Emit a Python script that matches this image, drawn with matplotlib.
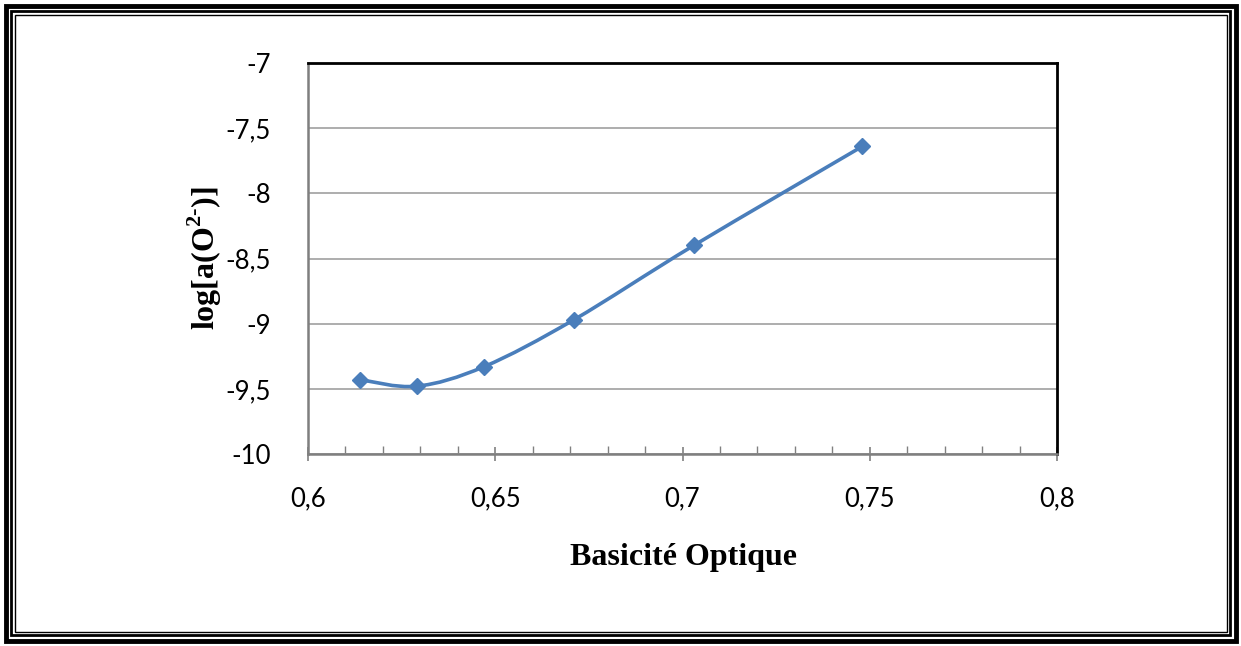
import matplotlib.pyplot as plt
from matplotlib.path import Path
from matplotlib.patches import PathPatch, Rectangle
from matplotlib.ticker import MultipleLocator, FuncFormatter

basicite = [0.614, 0.629, 0.647, 0.671, 0.703, 0.748]
log_a_o2 = [-9.43, -9.48, -9.33, -8.97, -8.40, -7.64]

x_ticks = [0.6, 0.65, 0.7, 0.75, 0.8]
y_ticks = [-10, -9.5, -9, -8.5, -8, -7.5, -7]

plt.rcParams['mathtext.fontset'] = 'custom'
plt.rcParams['mathtext.rm'] = 'Liberation Serif:bold'
plt.rcParams['mathtext.bf'] = 'Liberation Serif:bold'

line_color = '#4a7ebb'


def smooth_path(xs, ys, tension=0.5):
    # Excel-like smoothed line: cardinal spline as cubic bezier segments
    pts = list(zip(xs, ys))
    verts = [pts[0]]
    codes = [Path.MOVETO]
    n = len(pts)
    for i in range(n - 1):
        p0 = pts[i - 1] if i > 0 else pts[i]
        p1 = pts[i]
        p2 = pts[i + 1]
        p3 = pts[i + 2] if i + 2 < n else pts[i + 1]
        c1 = (p1[0] + (p2[0] - p0[0]) * tension / 3, p1[1] + (p2[1] - p0[1]) * tension / 3)
        c2 = (p2[0] - (p3[0] - p1[0]) * tension / 3, p2[1] - (p3[1] - p1[1]) * tension / 3)
        verts += [c1, c2, p2]
        codes += [Path.CURVE4] * 3
    return Path(verts, codes)


fig = plt.figure(figsize=(12.41, 6.46), dpi=100)
ax = fig.add_axes([308 / 1241, 1 - 454 / 646, 749 / 1241, 391 / 646])

ax.add_patch(PathPatch(smooth_path(basicite, log_a_o2), facecolor='none',
                       edgecolor=line_color, lw=2.6, zorder=3))
ax.plot(basicite, log_a_o2, linestyle='none', marker='D', markersize=8.5,
        color=line_color, zorder=4)

ax.set_xlim(0.6, 0.8)
ax.set_ylim(-10, -7)
ax.set_xticks(x_ticks)
ax.set_yticks(y_ticks)
ax.xaxis.set_minor_locator(MultipleLocator(0.01))

fmt = FuncFormatter(lambda v, p: ('%g' % v).replace('.', ','))
ax.xaxis.set_major_formatter(fmt)
ax.yaxis.set_major_formatter(fmt)

for lbl in ax.get_xticklabels() + ax.get_yticklabels():
    lbl.set_fontfamily('Lato')
    lbl.set_fontsize(18.5)

ax.tick_params(axis='x', which='major', direction='inout', length=10, width=1.2,
               color='#808080', pad=18)
ax.tick_params(axis='x', which='minor', direction='in', length=6, width=1,
               color='#808080')
ax.tick_params(axis='y', which='major', length=0, pad=27)

ax.grid(axis='y', color='#a0a0a0', lw=1.2)
ax.set_axisbelow(True)

ax.spines['left'].set_color('#7f7f7f')
ax.spines['left'].set_linewidth(1.8)
ax.spines['bottom'].set_color('#7f7f7f')
ax.spines['bottom'].set_linewidth(1.8)
ax.spines['top'].set_color('black')
ax.spines['top'].set_linewidth(2)
ax.spines['right'].set_color('black')
ax.spines['right'].set_linewidth(2)

fig.text(683 / 1241, 1 - 558 / 646, 'Basicité Optique', ha='center', va='center',
         family='Liberation Serif', fontweight='bold', fontsize=23)
fig.text(205 / 1241, 1 - 258 / 646, r'log[a(O$^{2\text{-}}$)]', ha='center', va='center',
         rotation=90, family='Liberation Serif', fontweight='bold', fontsize=23)

# page border (thick outer, thinner inner lines)
W, H = 1241, 646
for off, lw in [(5.5, 3.5), (11, 2), (14.5, 1)]:
    fig.patches.append(Rectangle((off / W, off / H), 1 - 2 * off / W, 1 - 2 * off / H,
                                 transform=fig.transFigure, fill=False,
                                 edgecolor='black', lw=lw))

fig.savefig('out.png', dpi=100)
